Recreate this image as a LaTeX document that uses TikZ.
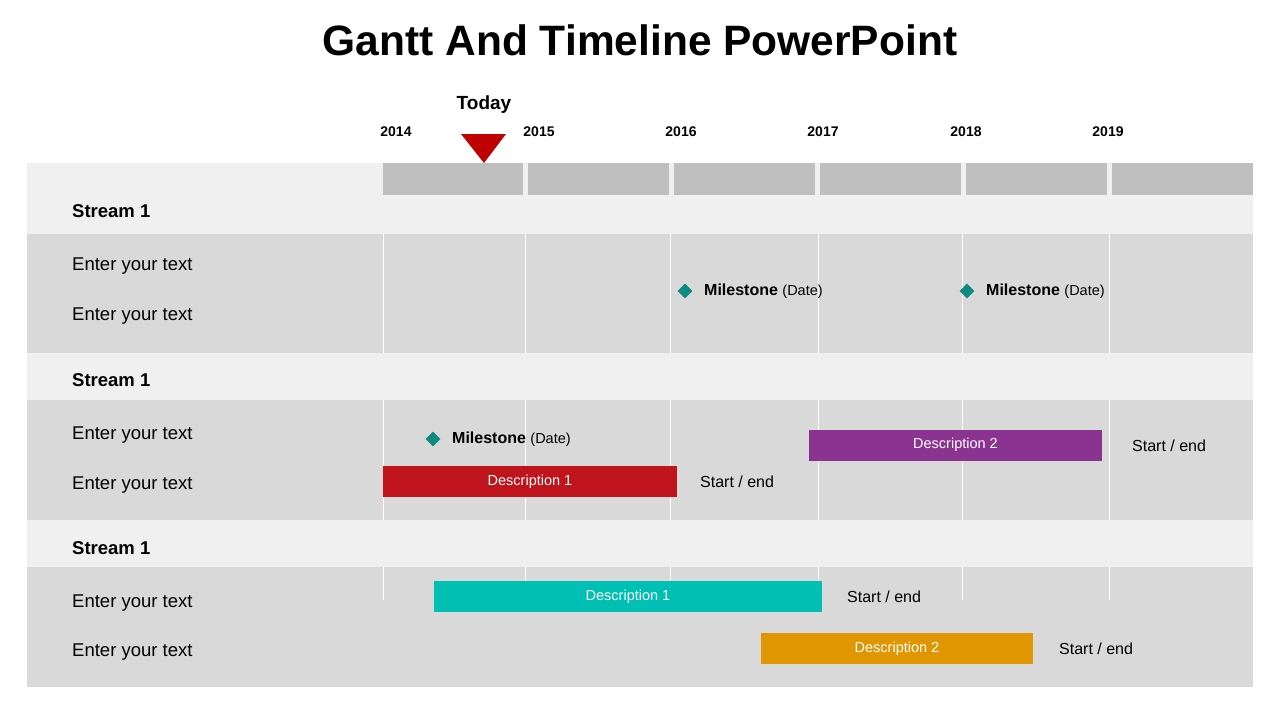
\documentclass[tikz,border=0pt]{standalone}
\usepackage{fontspec}
\setmainfont{Liberation Sans}
\usetikzlibrary{shapes.geometric}
\definecolor{bandlight}{HTML}{F0F0F0}
\definecolor{rowgray}{HTML}{D9D9D9}
\definecolor{headgray}{HTML}{BFBFBF}
\definecolor{todayred}{HTML}{C00000}
\definecolor{msteal}{HTML}{0E8A80}
\definecolor{barred}{HTML}{C0141C}
\definecolor{barpurple}{HTML}{8B3390}
\definecolor{barteal}{HTML}{00BFB3}
\definecolor{barorange}{HTML}{E09600}
\tikzset{
  lbl/.style={anchor=west,inner sep=0pt,font=\fontsize{18.5}{20}\selectfont},
  streamlbl/.style={anchor=west,inner sep=0pt,font=\bfseries\fontsize{18.5}{20}\selectfont},
  yearlbl/.style={font=\bfseries\fontsize{14}{16}\selectfont},
  barbox/.style={draw=none,minimum height=31pt,inner sep=0pt,text=white,font=\fontsize{14.5}{16}\selectfont},
  msmark/.style={diamond,fill=msteal,inner sep=0pt,minimum size=15pt},
  mslbl/.style={anchor=west,inner sep=0pt,font=\fontsize{16}{18}\selectfont},
  startlbl/.style={anchor=west,inner sep=0pt,font=\fontsize{16}{18}\selectfont}
}
\begin{document}
\begin{tikzpicture}[x=1pt,y=-1pt]
\useasboundingbox (0,0) rectangle (1280,720);
\fill[white] (0,0) rectangle (1280,720);
\node (title) at (640,40) {\bfseries\fontsize{42.5}{46}\selectfont Gantt And Timeline PowerPoint};
% panel
\fill[bandlight] (27,163) rectangle (1253,687);
\fill[rowgray] (27,234) rectangle (1253,353);
\fill[rowgray] (27,400) rectangle (1253,520);
\fill[rowgray] (27,567) rectangle (1253,687);
% header cells
\foreach \xa/\xb in {383/523,528/669,674/815,820/961,966/1107,1112/1253}
  \fill[headgray] (\xa,163) rectangle (\xb,195);
% grid lines
\foreach \gx in {383,525,670,818,962,1109}{
  \draw[white] (\gx,234) -- (\gx,353);
  \draw[white] (\gx,400) -- (\gx,520);
  \draw[white] (\gx,567) -- (\gx,600);
}
% years
\foreach \yx/\yr in {396/2014,539/2015,681/2016,823/2017,966/2018,1108/2019}
  \node[yearlbl] (y\yr) at (\yx,132) {\yr};
\node (today) at (484,105) {\bfseries\fontsize{19}{21}\selectfont Today};
\fill[todayred] (461,134) -- (506,134) -- (484,163) -- cycle;
% labels
\foreach \sy [count=\i] in {211,380,548}
  \node[streamlbl] (s\i) at (72,\sy) {Stream 1};
\foreach \ty [count=\i] in {266,316,435,485,603,652}
  \node[lbl] (t\i) at (72,\ty) {Enter your text};
% milestones
\foreach \mx/\my [count=\i] in {685/291,967/291,433/439}{
  \node[msmark] (m\i) at (\mx,\my) {};
  \node[mslbl] (ml\i) at (\mx+19,\my) {\textbf{Milestone} {\fontsize{14.5}{16}\selectfont(Date)}};
}
% bars
\node[barbox,fill=barred,minimum width=294pt] (b1) at (530,481.5) {Description 1};
\node[barbox,fill=barpurple,minimum width=293pt] (b2) at (955.5,445) {Description 2};
\node[barbox,fill=barteal,minimum width=388pt] (b3) at (628,596.5) {Description 1};
\node[barbox,fill=barorange,minimum width=272pt] (b4) at (897,648.5) {Description 2};
\node[startlbl] (e1) at (700,482) {Start / end};
\node[startlbl] (e2) at (1132,446) {Start / end};
\node[startlbl] (e3) at (847,597) {Start / end};
\node[startlbl] (e4) at (1059,649) {Start / end};
\end{tikzpicture}
\end{document}
